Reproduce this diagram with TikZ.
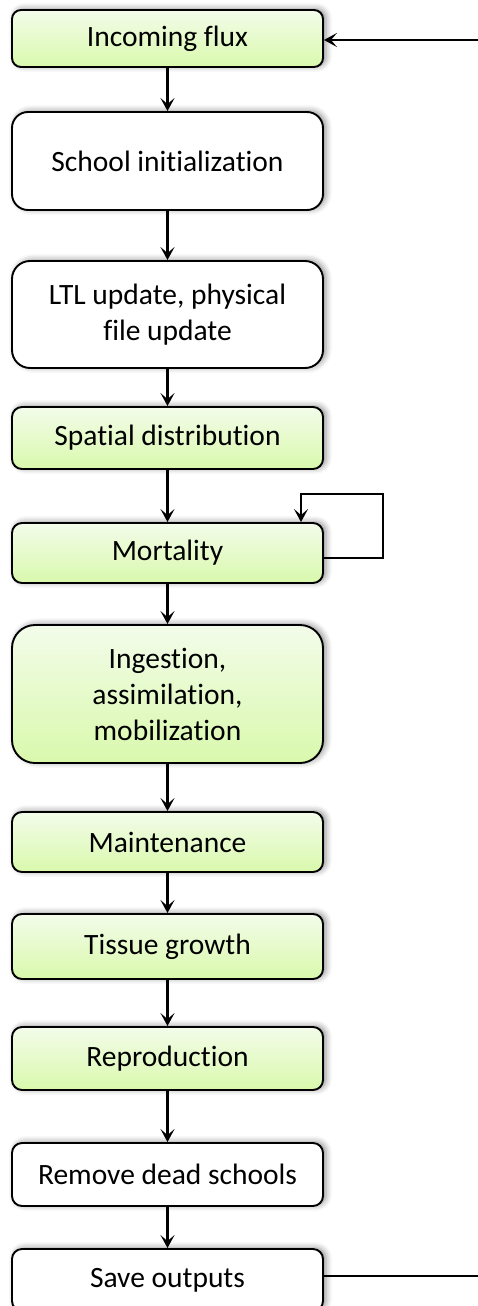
\documentclass[tikz,border=0pt]{standalone}
\usepackage{fontspec}
\setmainfont{Carlito}[Ligatures=NoCommon]
\usetikzlibrary{arrows.meta,shadows.blur}
\definecolor{gtop}{HTML}{F3FCEA}
\definecolor{gbot}{HTML}{D9F9AC}
\tikzset{
  box/.style={draw=black, line width=1.9pt, minimum width=311pt, inner sep=0pt,
    align=center, font=\fontsize{29.5}{36}\selectfont,
    blur shadow={shadow xshift=3pt, shadow yshift=1pt, shadow blur radius=6pt, shadow opacity=45}},
  gbox/.style={box, top color=gtop, bottom color=gbot},
  wbox/.style={box, fill=white},
  arr/.style={line width=2.3pt, -{Stealth[length=13pt,width=14pt,inset=6pt]}},
  thinarr/.style={line width=1.8pt, -{Stealth[length=13pt,width=14pt,inset=6pt]}},
}
\begin{document}
\begin{tikzpicture}[x=1pt,y=-1pt]
\useasboundingbox (0,0) rectangle (478,1306);
\node[gbox, minimum height=57pt, rounded corners=9pt] (n1) at (167.5,38.5) {Incoming flux};
\node[wbox, minimum height=98pt, rounded corners=16pt] (n2) at (167.5,161) {School initialization};
\node[wbox, minimum height=107pt, rounded corners=18pt] (n3) at (167.5,314.5) {LTL update, physical\\file update};
\node[gbox, minimum height=62pt, rounded corners=10pt] (n4) at (167.5,438) {Spatial distribution};
\node[gbox, minimum height=60pt, rounded corners=10pt] (n5) at (167.5,553) {Mortality};
\node[gbox, minimum height=138pt, rounded corners=23pt] (n6) at (167.5,694) {Ingestion,\\assimilation,\\mobilization};
\node[gbox, minimum height=60pt, rounded corners=10pt] (n7) at (167.5,842) {Maintenance};
\node[gbox, minimum height=65pt, rounded corners=10pt] (n8) at (167.5,946.5) {Tissue growth};
\node[gbox, minimum height=63pt, rounded corners=10pt] (n9) at (167.5,1058.5) {Reproduction};
\node[wbox, minimum height=63pt, rounded corners=10pt] (n10) at (167.5,1174.5) {Remove dead schools};
\node[wbox, minimum height=62pt, rounded corners=10pt] (n11) at (167.5,1280) {Save outputs};
\draw[arr] (n1) -- (n2);
\draw[arr] (n2) -- (n3);
\draw[arr] (n3) -- (n4);
\draw[arr] (n4) -- (n5);
\draw[arr] (n5) -- (n6);
\draw[arr] (n6) -- (n7);
\draw[arr] (n7) -- (n8);
\draw[arr] (n8) -- (n9);
\draw[arr] (n9) -- (n10);
\draw[arr] (n10) -- (n11);
\coordinate (inR) at (478,40);
\draw[arr] (inR) -- (inR -| n1.east);
\coordinate (lpA) at (383,494);
\coordinate (lpB) at (301,494);
\draw[thinarr] ([yshift=-5pt]n5.east) -| (lpA) -- (lpB) -- (lpB |- n5.north);
\coordinate (outR) at (478,1276);
\draw[line width=1.6pt] (outR -| n11.east) -- (outR);
\end{tikzpicture}
\end{document}
